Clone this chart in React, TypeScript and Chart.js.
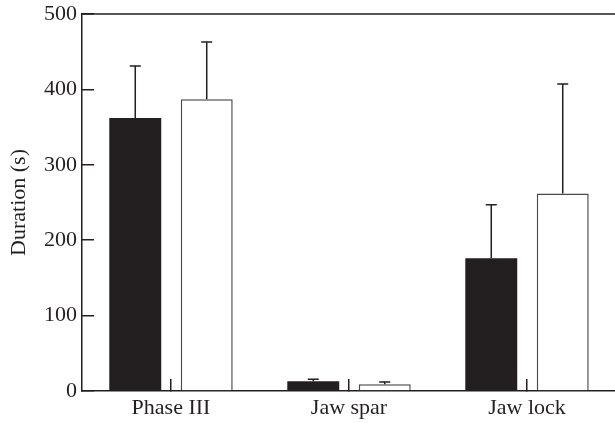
import React, { useEffect, useRef } from "react";
import { Chart, registerables } from "chart.js";

Chart.register(...registerables);

const categories = ["Phase III", "Jaw spar", "Jaw lock"];
const blackMeans = [362, 13, 176];
const blackErrors = [69, 2.5, 71];
const whiteMeans = [387, 9, 262];
const whiteErrors = [76, 3, 145];
const yTicks = [0, 100, 200, 300, 400, 500];

const INK = "#231f20";
const FONT = { family: "'Liberation Serif', 'Times New Roman', serif", size: 22 };

const errorBarPlugin = {
  id: "errorBars",
  afterDatasetsDraw(chart: any) {
    const ctx = chart.ctx;
    const yScale = chart.scales.y;
    chart.data.datasets.forEach((ds: any, i: number) => {
      const meta = chart.getDatasetMeta(i);
      meta.data.forEach((el: any, j: number) => {
        const top = ds.data[j] + ds.errors[j];
        const yErr = yScale.getPixelForValue(top);
        ctx.save();
        ctx.strokeStyle = INK;
        ctx.lineWidth = 1.5;
        ctx.beginPath();
        ctx.moveTo(el.x, el.y);
        ctx.lineTo(el.x, yErr);
        ctx.moveTo(el.x - 5.5, yErr);
        ctx.lineTo(el.x + 5.5, yErr);
        ctx.stroke();
        ctx.restore();
      });
    });
  },
};

const topLinePlugin = {
  id: "topLine",
  afterDraw(chart: any) {
    const { ctx, chartArea } = chart;
    ctx.save();
    ctx.strokeStyle = INK;
    ctx.lineWidth = 1.5;
    ctx.beginPath();
    ctx.moveTo(chartArea.left, chartArea.top);
    ctx.lineTo(chartArea.right + 10, chartArea.top);
    ctx.stroke();
    ctx.restore();
  },
};

export default function App() {
  const ref = useRef<HTMLCanvasElement | null>(null);
  useEffect(() => {
    if (!ref.current) return;
    const chart = new Chart(ref.current, {
      type: "bar",
      data: {
        labels: categories,
        datasets: [
          {
            label: "Black",
            data: blackMeans,
            errors: blackErrors,
            backgroundColor: INK,
            borderColor: INK,
            borderWidth: 0,
          } as any,
          {
            label: "White",
            data: whiteMeans,
            errors: whiteErrors,
            backgroundColor: "#ffffff",
            borderColor: "#4a4a4a",
            borderWidth: 1.5,
          } as any,
        ],
      },
      options: {
        animation: false,
        responsive: false,
        maintainAspectRatio: false,
        layout: { padding: { top: 14, right: 4, left: 0, bottom: 0 } },
        datasets: { bar: { categoryPercentage: 0.803, barPercentage: 0.727 } },
        plugins: { legend: { display: false }, tooltip: { enabled: false } },
        scales: {
          x: {
            grid: {
              offset: false,
              drawOnChartArea: false,
              drawTicks: true,
              tickLength: -12,
              color: INK,
              lineWidth: 1.5,
            },
            border: { display: true, color: INK, width: 1.5 },
            ticks: { color: INK, font: FONT, padding: 16, maxRotation: 0 },
            afterFit: (s: any) => {
              s.height = 32;
              s.paddingLeft = 0;
              s.paddingRight = 0;
            },
          },
          y: {
            min: 0,
            max: 500,
            afterBuildTicks: (s: any) => {
              s.ticks = yTicks.map((v) => ({ value: v }));
            },
            grid: {
              drawOnChartArea: false,
              drawTicks: true,
              tickLength: -12,
              color: INK,
              lineWidth: 1.5,
            },
            border: { display: true, color: INK, width: 1.5 },
            ticks: { color: INK, font: FONT, padding: 17 },
            title: {
              display: true,
              text: "Duration (s)",
              color: INK,
              font: FONT,
              padding: { top: 6, bottom: 0 },
            },
            afterFit: (s: any) => {
              s.width = 82;
              s.paddingTop = 0;
              s.paddingBottom = 0;
            },
          },
        },
      },
      plugins: [errorBarPlugin, topLinePlugin],
    } as any);
    return () => chart.destroy();
  }, []);
  return (
    <div
      style={{
        position: "fixed",
        left: 0,
        top: 0,
        width: 615,
        height: 423,
        overflow: "hidden",
        background: "#fff",
      }}
    >
      <canvas ref={ref} width={620} height={423} style={{ width: 620, height: 423, display: "block" }} />
    </div>
  );
}
